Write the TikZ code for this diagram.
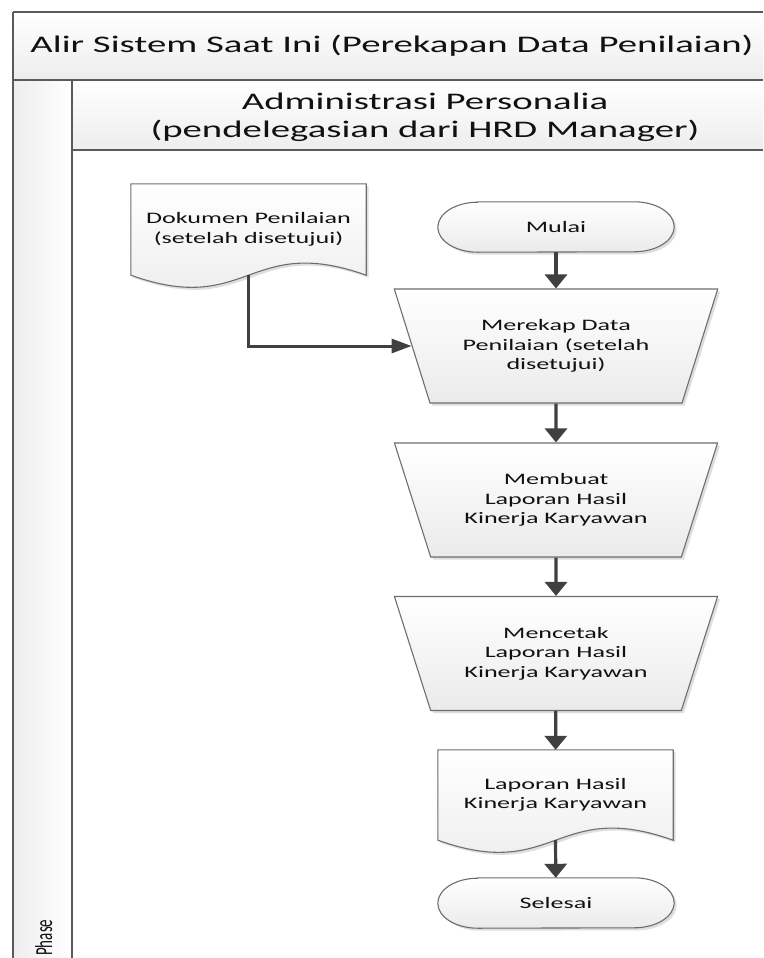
\documentclass[tikz,border=0pt]{standalone}
\usepackage{fontspec}
\setmainfont{Carlito}[FakeStretch=1.63]
\newfontfamily\plainfont{Carlito}
\usetikzlibrary{shapes.geometric,arrows.meta,shadows,calc}

\pgfdeclarelayer{background}
\pgfsetlayers{background,main}

\definecolor{frameline}{HTML}{5A5A5A}
\definecolor{shapeline}{HTML}{6E6E6E}
\definecolor{flow}{HTML}{404040}
\definecolor{textcol}{HTML}{111111}

% outline of a terminator (flat top and bottom, elliptic ends)
\newcommand\stadiumpath[1]{%
  ($(#1.north west)+(40,0)$) -- ($(#1.north east)+(-40,0)$)
  arc[start angle=90, end angle=-90, x radius=40pt, y radius=25pt]
  -- ($(#1.south west)+(40,0)$)
  arc[start angle=270, end angle=90, x radius=40pt, y radius=25pt] -- cycle}

% outline of a document shape (wavy bottom edge)
\newcommand\docpath[1]{%
  (#1.south west) -- (#1.north west) -- (#1.north east) -- (#1.south east)
  .. controls +(-117.5,-42) and +(117.5,42) .. (#1.south west) -- cycle}

\tikzset{
  x=1pt, y=-1pt,
  box shadow/.style={drop shadow={shadow xshift=2.5pt, shadow yshift=-2.5pt,
      fill=black!13, opacity=1}},
  shapefill/.style={top color=white, bottom color=black!8},
  nodetext/.style={font=\fontsize{16}{19.5}\selectfont, align=center, text=textcol},
  process/.style={trapezium, trapezium stretches=true,
      trapezium left angle=63.4, trapezium right angle=63.4,
      shape border rotate=180, minimum width=324pt, minimum height=114pt,
      inner sep=0pt, draw=shapeline, line width=1.1pt, shapefill, box shadow,
      nodetext},
  docbox/.style={rectangle, inner sep=0pt, minimum width=235pt,
      minimum height=91pt, nodetext},
  termbox/.style={rectangle, inner sep=0pt, minimum width=236pt,
      minimum height=50pt, nodetext},
  outline/.style={draw=shapeline, line width=1.1pt, shapefill, box shadow},
  flowv/.style={draw=flow, line width=3.2pt, -{Triangle[length=14pt,width=22pt]}},
  flowh/.style={draw=flow, line width=3pt, -{Triangle[length=20pt,width=14pt]}},
  framev/.style={draw=frameline, line width=2.6pt},
  frameh/.style={draw=frameline, line width=1.9pt},
  bandtext/.style={font=\fontsize{23.8}{28}\selectfont, align=center, text=textcol},
}

\begin{document}
\begin{tikzpicture}
\useasboundingbox (0,0) rectangle (763,958);
\clip (0,0) rectangle (763,958);
\begin{pgfonlayer}{background}
  \fill[white] (0,0) rectangle (763,958);
\end{pgfonlayer}

% pool title band, lane header and phase column
\shade[top color=white, bottom color=black!7] (13,12) rectangle (763,80);
\shade[top color=white, bottom color=black!7] (72,80) rectangle (763,150);
\shade[left color=black!7, right color=white] (13,80) rectangle (72,958);

\draw[frameh] (13,12) -- (763,12);
\draw[frameh] (13,80) -- (763,80);
\draw[frameh] (72,150) -- (763,150);
\draw[framev] (13,12) -- (13,958);
\draw[framev] (72,80) -- (72,958);

\node[bandtext] (pool) at (392,46) {Alir Sistem Saat Ini (Perekapan Data Penilaian)};
\node[bandtext] (lane) at (425,117) {Administrasi Personalia\\(pendelegasian dari HRD Manager)};
\node[rotate=90, anchor=base west, text=textcol, inner sep=0pt]
  (phase) at (52,956) {\scalebox{1}[1.63]{\plainfont\fontsize{15}{18}\selectfont Phase}};

% flow shapes
\node[docbox] (dokumen) at (248.5,229.5) {Dokumen Penilaian\\(setelah disetujui)};
\node[termbox] (mulai) at (556,227) {Mulai};
\node[process] (merekap) at (556,346) {Merekap Data\\Penilaian (setelah\\disetujui)};
\node[process] (membuat) at (556,500) {Membuat\\Laporan Hasil\\Kinerja Karyawan};
\node[process] (mencetak) at (556,653.5) {Mencetak\\Laporan Hasil\\Kinerja Karyawan};
\node[docbox, minimum height=90pt] (laporan) at (555.5,795) {Laporan Hasil\\Kinerja Karyawan};
\node[termbox] (selesai) at (556,903) {Selesai};

% outlines of the document and terminator shapes, behind their texts
\begin{pgfonlayer}{background}
  \path[outline] \docpath{dokumen};
  \path[outline] \stadiumpath{mulai};
  \path[outline] \docpath{laporan};
  \path[outline] \stadiumpath{selesai};
\end{pgfonlayer}

% connectors
\draw[flowh] (dokumen.south) |- (merekap);
\draw[flowv] (mulai) -- (merekap);
\draw[flowv] (merekap) -- (membuat);
\draw[flowv] (membuat) -- (mencetak);
\draw[flowv] (mencetak) -- (laporan);
\draw[flowv] (laporan.south) -- (selesai);
\end{tikzpicture}
\end{document}
